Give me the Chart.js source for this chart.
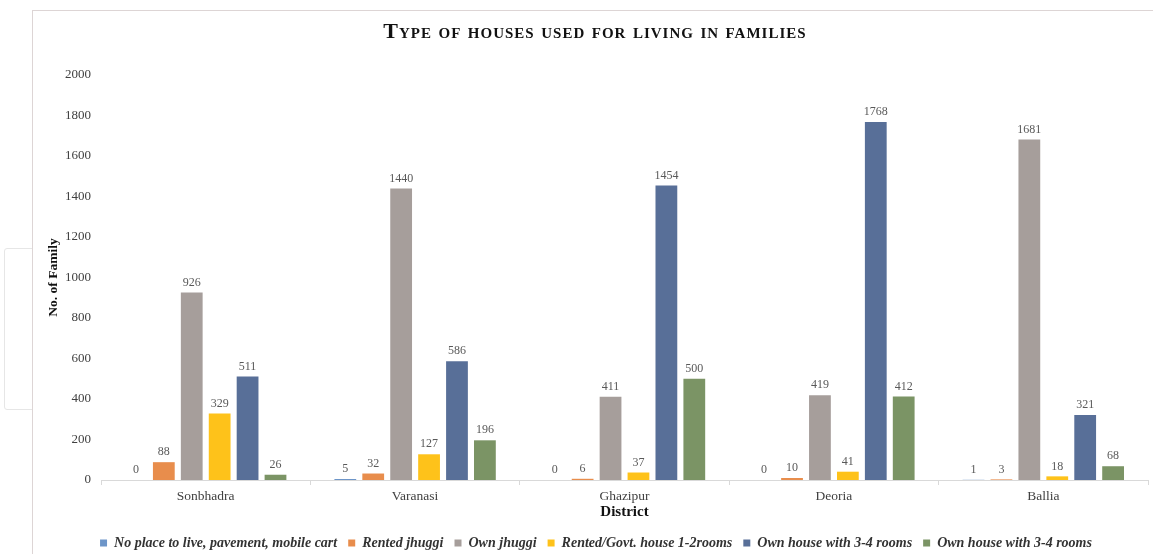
<!DOCTYPE html>
<html>
<head>
<meta charset="utf-8">
<title>Type of houses used for living in families</title>
<script src="https://cdn.jsdelivr.net/npm/chart.js@4.4.1/dist/chart.umd.min.js"></script>
<style>
  html, body { margin: 0; padding: 0; background: #fff; overflow: hidden; }
  #stage { position: relative; width: 1153px; height: 554px; overflow: hidden; }
  #sideBox {
    position: absolute; left: 4px; top: 248px; width: 60px; height: 160px;
    border: 1px solid #e6e6e6; border-radius: 3px; background: #fff;
  }
  #frame {
    position: absolute; left: 32px; top: 10px; width: 1200px; height: 600px;
    border: 1px solid #ddd5d5; background: #fff;
  }
  #chart { position: absolute; left: 0; top: 0; }
  #title {
    position: absolute; left: 0; top: 20px; width: 1190px; text-align: center;
    font: bold 22px 'Liberation Serif', serif; font-variant: small-caps;
    line-height: 22px; color: #111; letter-spacing: 1px;
  }
</style>
</head>
<body>
<div id="stage">
  <div id="sideBox"></div>
  <div id="frame"></div>
  <canvas id="chart" width="1153" height="560"></canvas>
  <div id="title">Type of houses used for living in families</div>
</div>
<script>
const districts = ['Sonbhadra', 'Varanasi', 'Ghazipur', 'Deoria', 'Ballia'];

const noPlace       = [0, 5, 0, 0, 1];
const rentedJhuggi  = [88, 32, 6, 10, 3];
const ownJhuggi     = [926, 1440, 411, 419, 1681];
const rentedGovt    = [329, 127, 37, 41, 18];
const ownHouseA     = [511, 586, 1454, 1768, 321];
const ownHouseB     = [26, 196, 500, 412, 68];

const yMin = 0, yMax = 2000, yStep = 200;

const serif = "'Liberation Serif', serif";

function series(label, data, color) {
  return { label, data, backgroundColor: color, borderWidth: 0 };
}

// value printed above every bar
const barValues = {
  id: 'barValues',
  afterDatasetsDraw(chart) {
    const ctx = chart.ctx;
    ctx.save();
    ctx.font = '12px ' + serif;
    ctx.fillStyle = '#595959';
    ctx.textAlign = 'center';
    ctx.textBaseline = 'bottom';
    chart.data.datasets.forEach((ds, i) => {
      chart.getDatasetMeta(i).data.forEach((bar, j) => {
        ctx.fillText(String(ds.data[j]), bar.x, bar.y - 4);
      });
    });
    ctx.restore();
  }
};

new Chart(document.getElementById('chart'), {
  type: 'bar',
  data: {
    labels: districts,
    datasets: [
      series('No place to live, pavement, mobile cart', noPlace, '#6d95c8'),
      series('Rented jhuggi', rentedJhuggi, '#e88d4c'),
      series('Own jhuggi', ownJhuggi, '#a69e9b'),
      series('Rented/Govt. house 1-2rooms', rentedGovt, '#fec21a'),
      series('Own house with 3-4 rooms', ownHouseA, '#586f98'),
      series('Own house with 3-4 rooms', ownHouseB, '#7b9465')
    ]
  },
  options: {
    responsive: false,
    animation: false,
    datasets: { bar: { categoryPercentage: 0.8, barPercentage: 0.78 } },
    layout: { padding: { left: 44, right: 5, top: 75, bottom: 0 } },
    plugins: {
      title: { display: false },
      tooltip: { enabled: false },
      legend: {
        position: 'bottom',
        labels: {
          boxWidth: 7, boxHeight: 7, padding: 11,
          color: '#333',
          font: { family: serif, size: 14, weight: 'bold', style: 'italic' }
        }
      }
    },
    scales: {
      x: {
        afterFit(scale) { scale.height = 45; },
        border: { color: '#d9d9d9' },
        grid: { drawOnChartArea: false, tickLength: 5, color: '#d9d9d9' },
        ticks: { color: '#404040', padding: 3, font: { family: serif, size: 13.5 } },
        title: {
          display: true, text: 'District', color: '#111',
          padding: { top: 2, bottom: 4 },
          font: { family: serif, size: 15, weight: 'bold' }
        }
      },
      y: {
        min: yMin, max: yMax,
        afterFit(scale) { scale.width = 57; },
        border: { display: false },
        grid: { display: false, drawTicks: false },
        ticks: {
          stepSize: yStep, color: '#404040', padding: 10,
          font: { family: serif, size: 13 },
          callback: v => String(v)
        },
        title: {
          display: true, text: 'No. of Family', color: '#111',
          padding: 1,
          font: { family: serif, size: 13.5, weight: 'bold' }
        }
      }
    }
  },
  plugins: [barValues]
});
</script>
</body>
</html>
